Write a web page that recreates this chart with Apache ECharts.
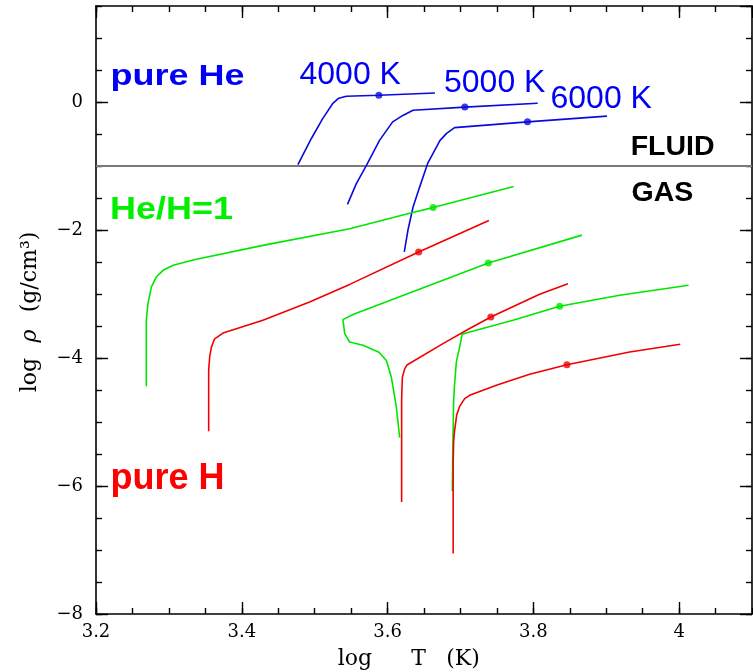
<!DOCTYPE html>
<html>
<head>
<meta charset="utf-8">
<script src="https://cdn.jsdelivr.net/npm/echarts@6/dist/echarts.min.js"></script>
<style>
  html, body { margin: 0; padding: 0; background: #fff; }
  #chart { width: 753px; height: 672px; }
</style>
</head>
<body>
<div id="chart"></div>
<script>
// Axis ranges: log T (K) and log rho (g/cm^3)
const tRange = [3.2, 4.1];
const rhoRange = [-8, 1.5];
const tMajorTicks = [3.2, 3.4, 3.6, 3.8, 4.0];
const rhoMajorTicks = [-8, -6, -4, -2, 0];

// FLUID / GAS boundary
const boundaryT = [3.2, 4.1];
const boundaryRho = [-1, -1];

// pure He tracks (blue)
const he4000T = [3.477, 3.4955, 3.511, 3.525, 3.533, 3.5435, 3.588, 3.665];
const he4000R = [-0.98, -0.57, -0.26, -0.02, 0.06, 0.09, 0.105, 0.14];
const he5000T = [3.545, 3.557, 3.571, 3.589, 3.607, 3.621, 3.635, 3.706, 3.806];
const he5000R = [-1.60, -1.28, -0.99, -0.60, -0.31, -0.21, -0.13, -0.08, -0.02];
const he6000T = [3.623, 3.628, 3.635, 3.644, 3.655, 3.672, 3.681, 3.692, 3.792, 3.901];
const he6000R = [-2.34, -2.00, -1.64, -1.33, -0.96, -0.60, -0.49, -0.40, -0.31, -0.22];
const heDotT = [3.588, 3.706, 3.792];
const heDotR = [0.105, -0.08, -0.31];

// He/H=1 tracks (green)
const mix4000T = [3.269, 3.269, 3.2713, 3.276, 3.283, 3.292, 3.306, 3.333, 3.429, 3.548, 3.633, 3.6625, 3.773];
const mix4000R = [-4.44, -3.41, -3.15, -2.89, -2.73, -2.63, -2.55, -2.47, -2.24, -1.98, -1.73, -1.65, -1.32];
const mix5000T = [3.6166, 3.6121, 3.6052, 3.5984, 3.5882, 3.5663, 3.548, 3.5412, 3.5388, 3.5525, 3.658, 3.7383, 3.8667];
const mix5000R = [-5.244, -4.77, -4.30, -4.04, -3.91, -3.80, -3.75, -3.62, -3.40, -3.32, -2.864, -2.516, -2.08];
const mix6000T = [3.6889, 3.6897, 3.6907, 3.692, 3.6944, 3.6989, 3.7023, 3.7103, 3.772, 3.8361, 3.9184, 4.013];
const mix6000R = [-6.08, -5.29, -4.66, -4.40, -4.06, -3.83, -3.63, -3.60, -3.41, -3.192, -3.02, -2.864];
const mixDotT = [3.6625, 3.7383, 3.8361];
const mixDotR = [-1.65, -2.516, -3.192];

// pure H tracks (red)
const h4000T = [3.3546, 3.3546, 3.356, 3.3583, 3.3628, 3.3742, 3.429, 3.493, 3.548, 3.6427, 3.739];
const h4000R = [-5.145, -4.19, -3.98, -3.83, -3.70, -3.61, -3.41, -3.125, -2.85, -2.344, -1.85];
const h5000T = [3.6193, 3.6193, 3.6203, 3.6235, 3.6266, 3.676, 3.7126, 3.7417, 3.8086, 3.8475];
const h5000R = [-6.25, -4.66, -4.30, -4.17, -4.11, -3.775, -3.54, -3.359, -3.005, -2.838];
const h6000T = [3.690, 3.690, 3.6907, 3.692, 3.6948, 3.6989, 3.7058, 3.7126, 3.7493, 3.7949, 3.8461, 3.9321, 4.0016];
const h6000R = [-7.056, -5.65, -5.29, -5.13, -4.895, -4.755, -4.634, -4.583, -4.427, -4.255, -4.106, -3.906, -3.786];
const hDotT = [3.6427, 3.7417, 3.8461];
const hDotR = [-2.344, -3.359, -4.106];

const BLUE_LINE = '#0a0ae0', GREEN_LINE = '#00e600', RED_LINE = '#f00000';
const BLUE_TEXT = '#0000f5', GREEN_TEXT = '#00f000', RED_TEXT = '#ff0000';

const zip = (xs, ys) => xs.map((x, i) => [x, ys[i]]);
const near = (v, arr) => arr.some(a => Math.abs(a - v) < 1e-6);

function track(name, xs, ys, color) {
  return {
    name, type: 'line', data: zip(xs, ys), symbol: 'none', showSymbol: false,
    lineStyle: { color, width: 1.6 }, silent: true, z: 3
  };
}
function dots(name, xs, ys, color) {
  return {
    name, type: 'scatter', data: zip(xs, ys), symbol: 'circle', symbolSize: 7,
    itemStyle: { color }, silent: true, z: 4
  };
}

const frame = { show: true, onZero: false, lineStyle: { color: '#000', width: 1.6 } };
const tickStyle = { color: '#000', width: 1.4 };
// tick label style, applied through a rich-text token
const tickRich = { t: { fontFamily: '"DejaVu Serif", serif', fontSize: 18, color: '#000' } };

function xAxis(position, interval, len, labels) {
  const ax = {
    type: 'value', position, min: tRange[0], max: tRange[1], interval,
    axisLine: labels !== null ? frame : { show: false, onZero: false },
    axisTick: { show: true, inside: true, length: len, lineStyle: tickStyle },
    axisLabel: { show: false },
    splitLine: { show: false }, minorTick: { show: false }
  };
  if (labels) {
    ax.axisLabel = {
      show: true, margin: 9, showMaxLabel: false, rich: tickRich,
      formatter: v => near(v, tMajorTicks) ? '{t|' + String(+v.toFixed(1)) + '}' : ''
    };
  }
  return ax;
}
function yAxis(position, interval, len, labels) {
  const ax = {
    type: 'value', position, min: rhoRange[0], max: rhoRange[1], interval,
    axisLine: labels !== null ? frame : { show: false, onZero: false },
    axisTick: { show: true, inside: true, length: len, lineStyle: tickStyle },
    axisLabel: { show: false },
    splitLine: { show: false }, minorTick: { show: false }
  };
  if (labels) {
    ax.axisLabel = {
      show: true, margin: 13, showMaxLabel: false, rich: tickRich,
      formatter: v => near(v, rhoMajorTicks) ? '{t|' + String(Math.round(v)).replace('-', '\u2212') + '}' : ''
    };
  }
  return ax;
}

function txt(text, x, y, color, size, weight, scaleY) {
  return {
    type: 'text', x, y, scaleY: scaleY || 1, silent: true, z: 10,
    style: {
      text, fill: color,
      font: `${weight} ${size}px "Liberation Sans", Arial, sans-serif`,
      textAlign: 'left', textVerticalAlign: 'middle', align: 'left', verticalAlign: 'middle'
    }
  };
}
function title(text, x, y, rotation, italic) {
  return {
    type: 'text', x, y, rotation: rotation || 0, silent: true, z: 10,
    style: {
      text, fill: '#000',
      font: `${italic ? 'italic ' : ''}normal 22px "DejaVu Serif", serif`,
      textAlign: 'center', textVerticalAlign: 'middle', align: 'center', verticalAlign: 'middle'
    }
  };
}

const chart = echarts.init(document.getElementById('chart'), null, { renderer: 'canvas' });
chart.setOption({
  animation: false,
  backgroundColor: '#fff',
  grid: { left: 96, right: 1, top: 6, bottom: 58, containLabel: false },
  xAxis: [
    xAxis('bottom', 0.2, 12, true),
    xAxis('top', 0.2, 12, false),
    xAxis('bottom', 0.05, 6, null),
    xAxis('top', 0.05, 6, null)
  ],
  yAxis: [
    yAxis('left', 2, 12, true),
    yAxis('right', 2, 12, false),
    yAxis('left', 0.5, 6, null),
    yAxis('right', 0.5, 6, null)
  ],
  series: [
    {
      name: 'boundary', type: 'line', data: zip(boundaryT, boundaryRho), symbol: 'none',
      lineStyle: { color: '#7a7a7a', width: 2 }, silent: true, z: 2
    },
    track('He 4000 K', he4000T, he4000R, BLUE_LINE),
    track('He 5000 K', he5000T, he5000R, BLUE_LINE),
    track('He 6000 K', he6000T, he6000R, BLUE_LINE),
    track('He/H 4000 K', mix4000T, mix4000R, GREEN_LINE),
    track('He/H 5000 K', mix5000T, mix5000R, GREEN_LINE),
    track('He/H 6000 K', mix6000T, mix6000R, GREEN_LINE),
    track('H 4000 K', h4000T, h4000R, RED_LINE),
    track('H 5000 K', h5000T, h5000R, RED_LINE),
    track('H 6000 K', h6000T, h6000R, RED_LINE),
    dots('He marks', heDotT, heDotR, BLUE_LINE),
    dots('He/H marks', mixDotT, mixDotR, GREEN_LINE),
    dots('H marks', hDotT, hDotR, RED_LINE)
  ],
  graphic: [
    txt('pure He', 110.5, 77.5, BLUE_TEXT, 36, 'bold', 0.8),
    txt('He/H=1', 110, 210.5, GREEN_TEXT, 36, 'bold', 0.89),
    txt('pure H', 110.5, 479.5, RED_TEXT, 36, 'bold', 1),
    txt('4000 K', 299.5, 75, BLUE_TEXT, 32, 'normal', 1),
    txt('5000 K', 444, 83, BLUE_TEXT, 32, 'normal', 1),
    txt('6000 K', 550.5, 98.7, BLUE_TEXT, 32, 'normal', 1),
    txt('FLUID', 630.7, 146.7, '#000', 28.5, 'bold', 1),
    txt('GAS', 631.5, 193, '#000', 28.5, 'bold', 1),
    title('log', 355, 659),
    title('T', 418.5, 659),
    title('(K)', 463, 659),
    title('log', 30, 375, Math.PI / 2),
    title('\u03c1', 30, 336, Math.PI / 2, true),
    title('(g/cm\u00b3)', 30, 272, Math.PI / 2)
  ]
});
</script>
</body>
</html>
